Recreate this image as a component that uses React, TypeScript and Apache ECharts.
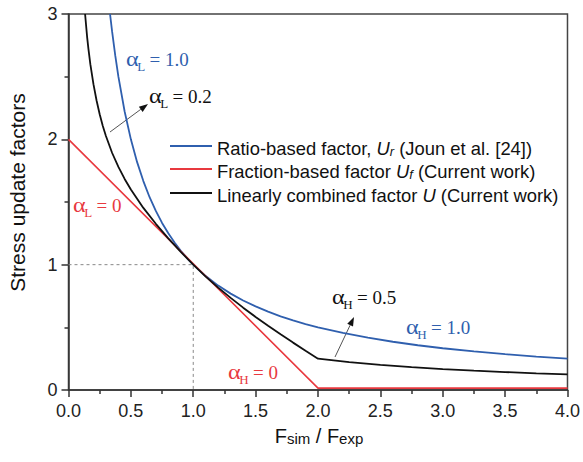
import React, { useEffect, useRef } from "react";
import * as echarts from "echarts";

// ---- data ----
const ratioX = [0.333, 0.35, 0.375, 0.4, 0.45, 0.5, 0.55, 0.6, 0.65, 0.7, 0.75, 0.8, 0.85, 0.9, 0.95, 1.0, 1.1, 1.2, 1.3, 1.4, 1.5, 1.6, 1.7, 1.8, 1.9, 2.0, 2.2, 2.4, 2.6, 2.8, 3.0, 3.25, 3.5, 3.75, 4.0];
const ratioY = [3.0, 2.857, 2.667, 2.5, 2.222, 2.0, 1.818, 1.667, 1.538, 1.429, 1.333, 1.25, 1.176, 1.111, 1.053, 1.0, 0.909, 0.833, 0.769, 0.714, 0.667, 0.625, 0.588, 0.556, 0.526, 0.5, 0.455, 0.417, 0.385, 0.357, 0.333, 0.308, 0.286, 0.267, 0.25];

const fractionX = [0.0, 2.0, 4.0];
const fractionY = [2.0, 0.015, 0.015];

const combinedX = [0.133, 0.14, 0.15, 0.16, 0.175, 0.2, 0.225, 0.25, 0.275, 0.3, 0.35, 0.4, 0.45, 0.5, 0.6, 0.7, 0.8, 0.9, 1.0, 1.1, 1.2, 1.3, 1.4, 1.5, 1.6, 1.7, 1.8, 1.9, 2.0, 2.25, 2.5, 2.75, 3.0, 3.25, 3.5, 3.75, 4.0];
const combinedY = [3.0, 2.92, 2.81, 2.72, 2.6, 2.44, 2.31, 2.2, 2.107, 2.027, 1.891, 1.78, 1.684, 1.6, 1.453, 1.326, 1.21, 1.102, 1.0, 0.905, 0.817, 0.735, 0.657, 0.583, 0.513, 0.444, 0.378, 0.313, 0.25, 0.222, 0.2, 0.182, 0.167, 0.154, 0.143, 0.133, 0.125];

const refX = [0, 1, 1];
const refY = [1, 1, 0];

const legendNames = [
  ["Ratio-based factor, ", "U", "r", " (Joun et al. [24])"],
  ["Fraction-based factor ", "U", "f", " (Current work)"],
  ["Linearly combined factor ", "U", "", " (Current work)"],
];

const BLUE = "#2f5fae";
const RED = "#e8393f";
const BLACK = "#111111";

const SANS = '"Liberation Sans", Arial, sans-serif';
const SERIF = '"Liberation Serif", "Times New Roman", serif';

let ctx: CanvasRenderingContext2D | null = null;
function measure(text: string, font: string): number {
  if (!ctx) ctx = document.createElement("canvas").getContext("2d");
  if (!ctx) return text.length * 8;
  ctx.font = font;
  return ctx.measureText(text).width;
}

function zip(xs: number[], ys: number[]) {
  return xs.map((x, i) => [x, ys[i]]);
}

function alphaLabel(x0: number, base: number, sub: string, val: string, color: string) {
  const fa = 21, fs = 13, fv = 19, sa = 1.15;
  const wa = measure("α", `${fa}px ${SERIF}`) * sa;
  const ws = measure(sub, `${fs}px ${SERIF}`);
  return [
    { type: "text", x: x0, y: base - 0.34 * fa, scaleX: sa, style: { text: "α", font: `${fa}px ${SERIF}`, fill: color, align: "left", verticalAlign: "middle" } },
    { type: "text", x: x0 + wa - 1.5, y: base + 4.5 - 0.34 * fs, style: { text: sub, font: `${fs}px ${SERIF}`, fill: color, align: "left", verticalAlign: "middle" } },
    { type: "text", x: x0 + wa + ws + 3, y: base - 0.34 * fv, style: { text: "= " + val, font: `${fv}px ${SERIF}`, fill: color, align: "left", verticalAlign: "middle" } },
  ];
}

function arrow(x1: number, y1: number, x2: number, y2: number) {
  const dx = x2 - x1, dy = y2 - y1;
  const len = Math.sqrt(dx * dx + dy * dy);
  const ux = dx / len, uy = dy / len;
  const hl = 9, hw = 3.2;
  const bx = x2 - ux * hl, by = y2 - uy * hl;
  return [
    { type: "line", shape: { x1, y1, x2: bx, y2: by }, style: { stroke: "#555", lineWidth: 1 } },
    { type: "polygon", shape: { points: [[x2, y2], [bx - uy * hw, by + ux * hw], [bx + uy * hw, by - ux * hw]] }, style: { fill: "#111" } },
  ];
}

function legendRow(y: number, color: string, parts: string[]) {
  const fm = 18.4, fsub = 13;
  const out: any[] = [
    { type: "line", shape: { x1: 170, y1: y, x2: 212, y2: y }, style: { stroke: color, lineWidth: 2 } },
  ];
  let x = 217;
  const base = y + 9;
  const fonts = [
    `${fm}px ${SANS}`,
    `italic ${fm}px ${SANS}`,
    `italic ${fsub}px ${SANS}`,
    `${fm}px ${SANS}`,
  ];
  parts.forEach((p, i) => {
    if (!p) return;
    const size = i === 2 ? fsub : fm;
    const b = i === 2 ? base + 1.5 : base;
    out.push({ type: "text", x, y: b - 0.35 * size, style: { text: p, font: fonts[i], fill: "#111", align: "left", verticalAlign: "middle" } });
    x += measure(p, fonts[i]);
  });
  return out;
}

function xName() {
  const big = `20px ${SANS}`, small = `15px ${SANS}`;
  const parts: [string, string][] = [["F", big], ["sim", small], [" / F", big], ["exp", small]];
  const total = parts.reduce((s, p) => s + measure(p[0], p[1]), 0);
  let x = 319 - total / 2;
  const base = 443;
  return parts.map(([t, f]) => {
    const size = f === big ? 20 : 15;
    const el = { type: "text", x, y: base + (size === 15 ? 1 : 0) - 0.35 * size, style: { text: t, font: f, fill: "#111", align: "left", verticalAlign: "middle" } };
    x += measure(t, f);
    return el;
  });
}

export default function App() {
  const ref = useRef<HTMLDivElement>(null);
  useEffect(() => {
    if (!ref.current) return;
    const chart = echarts.init(ref.current, null, { renderer: "svg" });
    const axisColor = "#333";
    const option: any = {
      animation: false,
      grid: { left: 68.5, right: 13.5, top: 14, bottom: 72, show: true, borderColor: "#444", borderWidth: 1.5, backgroundColor: "transparent" },
      xAxis: {
        type: "value", min: 0, max: 4, interval: 0.5,
        axisLine: { lineStyle: { color: axisColor, width: 1.5 } },
        axisTick: { length: 7, lineStyle: { color: axisColor, width: 1.5 } },
        minorTick: { show: true, splitNumber: 2, length: 4, lineStyle: { color: axisColor, width: 1.5 } },
        axisLabel: { margin: 12, fontSize: 18, fontFamily: SANS, color: "#222", formatter: (v: number) => v.toFixed(1) },
        splitLine: { show: false },
      },
      yAxis: {
        type: "value", min: 0, max: 3, interval: 1,
        axisLine: { show: true, lineStyle: { color: axisColor, width: 1.5 } },
        axisTick: { show: true, length: 7, lineStyle: { color: axisColor, width: 1.5 } },
        minorTick: { show: true, splitNumber: 2, length: 4, lineStyle: { color: axisColor, width: 1.5 } },
        axisLabel: { margin: 11, fontSize: 18, fontFamily: SANS, color: "#222" },
        splitLine: { show: false },
      },
      series: [
        { type: "line", data: zip(refX, refY), symbol: "none", lineStyle: { color: "#888", width: 1, type: [3, 3] }, silent: true },
        { type: "line", name: "Ratio", data: zip(ratioX, ratioY), symbol: "none", smooth: false, lineStyle: { color: BLUE, width: 1.8 } },
        { type: "line", name: "Fraction", data: zip(fractionX, fractionY), symbol: "none", lineStyle: { color: RED, width: 1.6 } },
        { type: "line", name: "Combined", data: zip(combinedX, combinedY), symbol: "none", smooth: false, lineStyle: { color: BLACK, width: 1.8 } },
      ],
      graphic: [
        ...legendRow(146, BLUE, legendNames[0]),
        ...legendRow(169, RED, legendNames[1]),
        ...legendRow(193, BLACK, legendNames[2]),
        ...alphaLabel(126, 66, "L", "1.0", BLUE),
        ...alphaLabel(149, 103, "L", "0.2", BLACK),
        ...alphaLabel(73, 212, "L", "0", RED),
        ...alphaLabel(228, 379, "H", "0", RED),
        ...alphaLabel(332, 304, "H", "0.5", BLACK),
        ...alphaLabel(406, 334, "H", "1.0", BLUE),
        ...arrow(110, 132, 148, 104),
        ...arrow(335, 357, 354, 317),
        ...xName(),
        { type: "text", x: 17, y: 192.5, rotation: Math.PI / 2, style: { text: "Stress update factors", font: `21px ${SANS}`, fill: "#111", align: "center", verticalAlign: "middle" } },
      ],
    };
    chart.setOption(option);
    return () => chart.dispose();
  }, []);
  return <div ref={ref} style={{ position: "absolute", left: 0, top: 0, width: 583, height: 462, background: "#fff" }} />;
}
